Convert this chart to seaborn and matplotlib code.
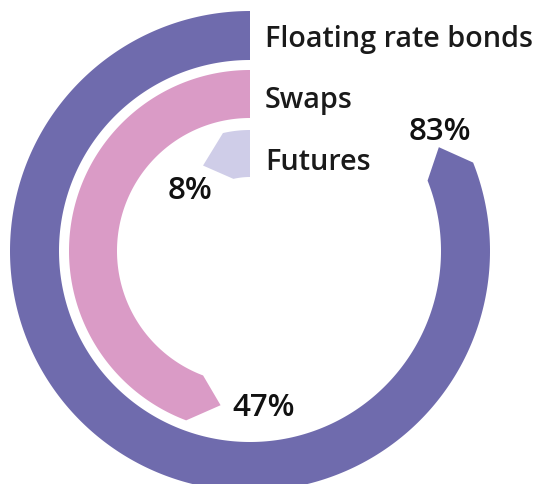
import numpy as np
import matplotlib
matplotlib.use("Agg")
import matplotlib.pyplot as plt
import seaborn as sns

# Share of institutions using each instrument
categories = ["Floating rate bonds", "Swaps", "Futures"]
shares = [83, 47, 8]
value_labels = ["83%", "47%", "8%"]

sns.set_theme(style="white")
plt.rcParams["font.family"] = ["Open Sans", "DejaVu Sans"]
palette = sns.color_palette(["#6F6BAD", "#DA9BC6", "#CFCDE8"])

# Ring geometry (radial units = pixels at dpi 100)
rings = [(191, 240), (133, 181), (74, 121)]
tip_depth = 27          # arc length of the arrow point
rmax = 250

W, H, DPI = 537, 485, 100
fig = plt.figure(figsize=(W / DPI, H / DPI), dpi=DPI)
cx, cy = 250, H - 252
ax = fig.add_axes([(cx - rmax) / W, (cy - rmax) / H, 2 * rmax / W, 2 * rmax / H],
                  projection="polar")
ax.set_theta_zero_location("N")
ax.set_theta_direction(1)
ax.set_rlim(0, rmax)
ax.set_axis_off()

name_offsets = [-10.5, -13, -15.5]
value_offsets = [((1, 8), "center"), ((12, -10), "left"), ((9, -32), "right")]

for (r_in, r_out), share, color, name, name_dy, vlab, (voff, vha) in zip(
        rings, shares, palette, categories, name_offsets, value_labels, value_offsets):
    theta_end = share / 100 * 2 * np.pi
    r_mid = (r_in + r_out) / 2
    theta_c = theta_end - tip_depth / r_mid
    arc = np.linspace(0, theta_c, 400)
    thetas = np.concatenate([arc, [theta_end], arc[::-1]])
    radii = np.concatenate([np.full(arc.size, r_out), [r_mid], np.full(arc.size, r_in)])
    ax.fill(thetas, radii, color=color, lw=0, clip_on=False)

    ax.annotate(name, xy=(0, r_mid), xytext=(15, name_dy), textcoords="offset pixels",
                ha="left", va="baseline", fontsize=20.7, fontweight="semibold",
                color="#1a1a1a", annotation_clip=False)
    ax.annotate(vlab, xy=(theta_end, r_mid), xytext=voff, textcoords="offset pixels",
                ha=vha, va="baseline", fontsize=22.5, fontweight="semibold",
                color="#111111", annotation_clip=False)

fig.savefig("out.png", dpi=DPI, facecolor="white")
